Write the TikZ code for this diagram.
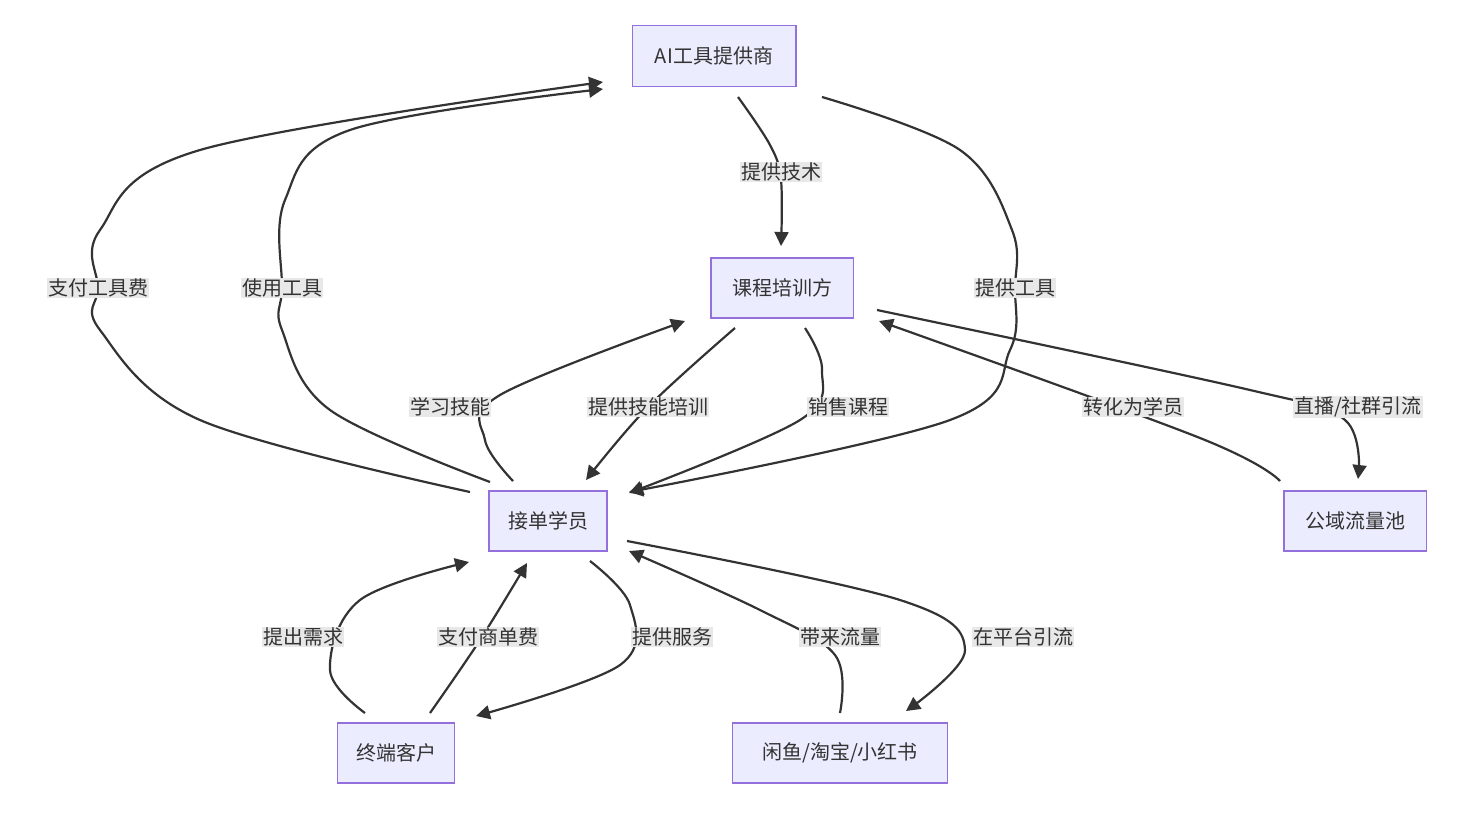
\documentclass[tikz,border=0pt]{standalone}
\usepackage{fontspec}
\setmainfont{Noto Sans CJK SC}
\usetikzlibrary{arrows.meta}
\definecolor{nfill}{HTML}{ECECFF}
\definecolor{nstroke}{HTML}{9370DB}
\definecolor{edge}{HTML}{333333}
\definecolor{lbg}{HTML}{E8E8E8}
\begin{document}
\begin{tikzpicture}[x=1pt,y=-1pt,
  box/.style={draw=nstroke,fill=nfill,line width=1.5pt,font=\fontsize{20}{24}\selectfont,text=edge,inner sep=0pt},
  lab/.style={fill=lbg,font=\fontsize{20}{24}\selectfont,text=edge,inner sep=1pt},
  conn/.style={draw=edge,line width=2.2pt,-{Triangle[length=14pt,width=14pt]}}]
\useasboundingbox (0,0) rectangle (1480,812);
\node[box,minimum width=163.5pt,minimum height=60.75pt] (ai) at (714,56) {AI工具提供商};
\node[box,minimum width=142.5pt,minimum height=60pt] (kc) at (782,288) {课程培训方};
\node[box,minimum width=117.75pt,minimum height=60pt] (xy) at (548,521) {接单学员};
\node[box,minimum width=142.5pt,minimum height=60pt] (gy) at (1355,521) {公域流量池};
\node[box,minimum width=117pt,minimum height=60pt] (kh) at (396,753) {终端客户};
\node[box,minimum width=215.25pt,minimum height=60pt] (xz) at (840,753) {闲鱼/淘宝/小红书};
\draw[conn] plot[smooth,tension=0.6] coordinates {(738,97) (770,145) (781,180) (781,246)};
\draw[conn] plot[smooth,tension=0.6] coordinates {(822,97) (960,150) (1012,230) (1015,288) (1010,350) (950,420) (629,492)};
\draw[conn] plot[smooth,tension=0.6] coordinates {(470,492) (200,420) (100,330) (98,288) (100,230) (200,150) (603,82)};
\draw[conn] plot[smooth,tension=0.6] coordinates {(490,482) (330,410) (282,330) (282,288) (285,200) (350,130) (603,89)};
\draw[conn] plot[smooth,tension=0.6] coordinates {(513,481) (485,440) (500,395) (685,321)};
\draw[conn] plot[smooth,tension=0.6] coordinates {(735,328) (648,407) (586,480)};
\draw[conn] plot[smooth,tension=0.6] coordinates {(805,328) (822,370) (800,420) (629,493)};
\draw[conn] plot[smooth,tension=0.6] coordinates {(877,310) (1250,390) (1345,420) (1358,479)};
\draw[conn] plot[smooth,tension=0.6] coordinates {(1280,481) (1200,438) (879,321)};
\draw[conn] plot[smooth,tension=0.6] coordinates {(365,713) (330,670) (360,600) (469,562)};
\draw[conn] plot[smooth,tension=0.6] coordinates {(430,713) (480,640) (527,563)};
\draw[conn] plot[smooth,tension=0.6] coordinates {(590,561) (630,605) (620,665) (476,716)};
\draw[conn] plot[smooth,tension=0.6] coordinates {(840,713) (835,655) (760,610) (629,551)};
\draw[conn] plot[smooth,tension=0.6] coordinates {(627,541) (900,600) (965,650) (906,711)};
\node[lab] (l1) at (781,172) {提供技术};
\node[lab] (l2) at (1015,288) {提供工具};
\node[lab] (l3) at (98,288) {支付工具费};
\node[lab] (l4) at (282,288) {使用工具};
\node[lab] (l5) at (450,407) {学习技能};
\node[lab] (l6) at (648,407) {提供技能培训};
\node[lab] (l7) at (848,407) {销售课程};
\node[lab] (l8) at (1358,407) {直播/社群引流};
\node[lab] (l9) at (1133,407) {转化为学员};
\node[lab] (l10) at (303,637) {提出需求};
\node[lab] (l11) at (488,637) {支付商单费};
\node[lab] (l12) at (672,637) {提供服务};
\node[lab] (l13) at (840,637) {带来流量};
\node[lab] (l14) at (1023,637) {在平台引流};
\end{tikzpicture}
\end{document}
